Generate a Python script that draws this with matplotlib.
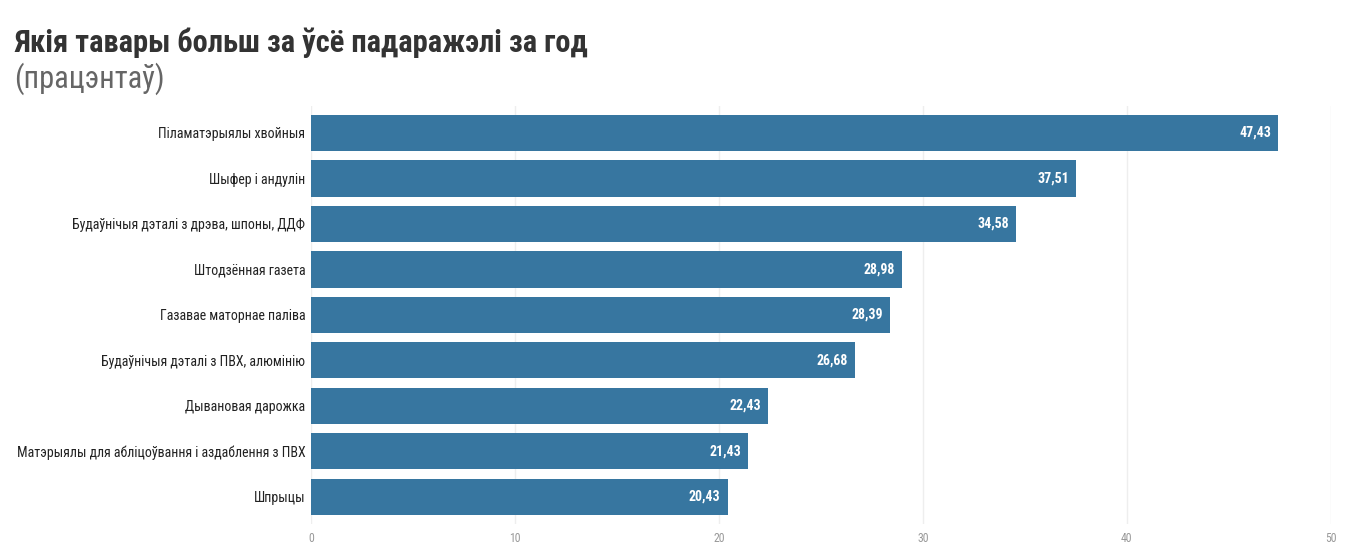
import matplotlib.pyplot as plt
from matplotlib import font_manager

# Data
categories = [
    "Піламатэрыялы хвойныя",
    "Шыфер і андулін",
    "Будаўнічыя дэталі з дрэва, шпоны, ДДФ",
    "Штодзённая газета",
    "Газавае маторнае паліва",
    "Будаўнічыя дэталі з ПВХ, алюмінію",
    "Дывановая дарожка",
    "Матэрыялы для абліцоўвання і аздаблення з ПВХ",
    "Шпрыцы",
]
values = [47.43, 37.51, 34.58, 28.98, 28.39, 26.68, 22.43, 21.43, 20.43]
xticks = [0, 10, 20, 30, 40, 50]

# use a condensed face if one happens to be installed
names = {f.name for f in font_manager.fontManager.ttflist}
condensed = 'Roboto Condensed' in names
fam = ['Roboto Condensed', 'DejaVu Sans'] if condensed else ['Roboto', 'DejaVu Sans']
plt.rcParams['font.family'] = fam
k = 1.0 if condensed else 0.9  # shrink regular Roboto to fit condensed widths

fig = plt.figure(figsize=(13.58, 5.52), dpi=100)
ax = fig.add_axes([0.229, 0.0507, 0.751, 0.758])

y = list(range(len(categories)))
ax.barh(y, values, height=0.8, color='#3776a0', zorder=2)

# value labels inside the bars
for yi, v in zip(y, values):
    ax.text(v - 0.35, yi, f"{v:.2f}".replace('.', ','), ha='right', va='center',
            color='white', fontsize=10 * k, fontweight='bold', zorder=3)

ax.set_ylim(len(categories) - 0.4, -0.6)
ax.set_xlim(0, 50)
ax.set_yticks(y)
ax.set_yticklabels(categories, fontsize=10 * k, color='#222222')
ax.set_xticks(xticks)
ax.set_xticklabels([str(t) for t in xticks], fontsize=8.5 * k, color='#999999')
ax.tick_params(length=0, pad=6)
ax.tick_params(axis='y', pad=4)
ax.grid(axis='x', color='#eeeeee', linewidth=1, zorder=0)
for s in ax.spines.values():
    s.set_visible(False)

fig.text(0.0103, 0.922, "Якія тавары больш за ўсё падаражэлі за год",
         fontsize=22 * k, fontweight='bold', color='#333333', ha='left', va='center')
fig.text(0.0103, 0.857, "(працэнтаў)", fontsize=22 * k, color='#666666',
         ha='left', va='center')

plt.savefig('out.png', dpi=100)
